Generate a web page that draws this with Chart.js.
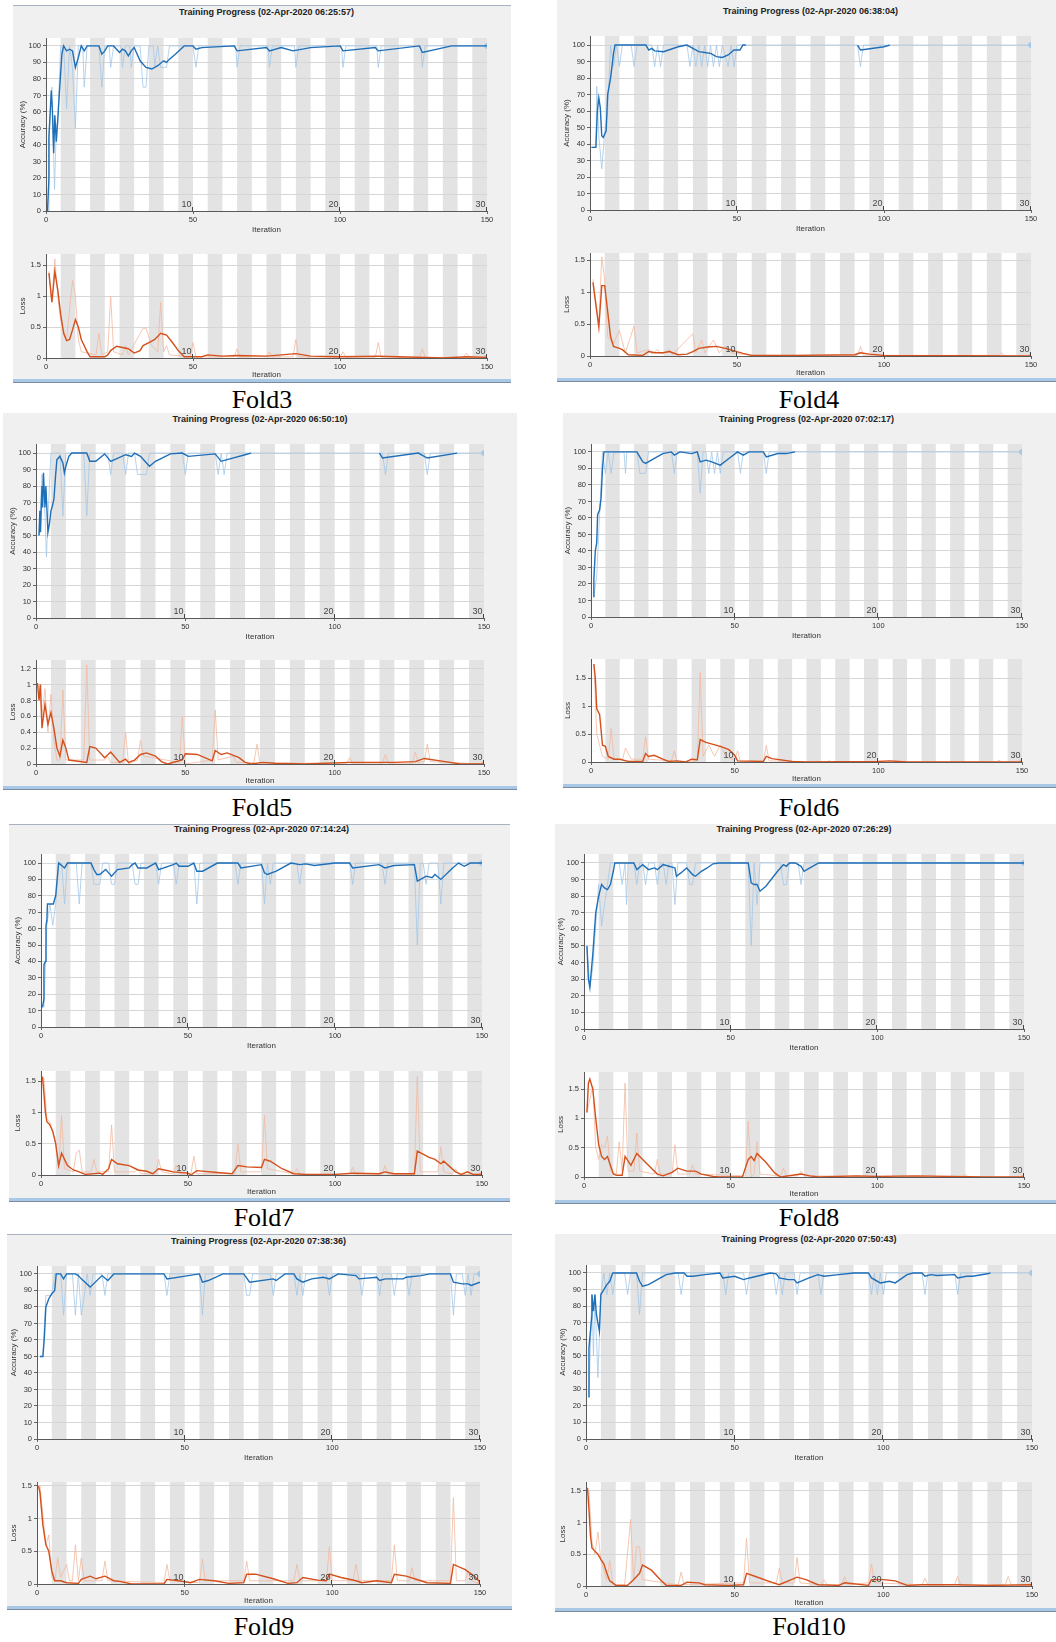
<!DOCTYPE html>
<html>
<head>
<meta charset="utf-8">
<script src="https://cdn.jsdelivr.net/npm/chart.js@4.4.1/dist/chart.umd.min.js"></script>
<style>
  body { margin: 0; width: 1056px; height: 1642px; background: #fff; position: relative; overflow: hidden; font-family: "Liberation Sans", Arial, sans-serif; }
  .frame { position: absolute; background: #f0f0f0; box-sizing: border-box; }
  .frame.topline { border-top: 1px solid #a7b3c0; }
  .frame .bar { position: absolute; left: 0; right: 0; bottom: 0; height: 3px; border-bottom: 1px solid #7b8a9c; background: #a9c7e7; }
  .title { position: absolute; font: bold 9px "Liberation Sans", Arial, sans-serif; color: #222; transform: translate(-50%, -50%); white-space: nowrap; }
  .fold { position: absolute; font: 26px "Liberation Serif", "Times New Roman", serif; color: #000; transform: translate(-50%, -50%); white-space: nowrap; }
  canvas { position: absolute; }
</style>
</head>
<body>
<script>
// 軸の目盛りとエポック
const iterTicks = [0, 50, 100, 150];
const accTicks = [0, 10, 20, 30, 40, 50, 60, 70, 80, 90, 100];
const lossTicks = [0, 0.5, 1, 1.5];
const lossTicksFine = [0, 0.2, 0.4, 0.6, 0.8, 1, 1.2];
const epochLabels = [10, 20, 30];
const itersPerEpoch = 5;
const numEpochs = 30;

const foldNames = ['Fold3', 'Fold4', 'Fold5', 'Fold6', 'Fold7', 'Fold8', 'Fold9', 'Fold10'];
const foldTimes = ['06:25:57', '06:38:04', '06:50:10', '07:02:17', '07:14:24', '07:26:29', '07:38:36', '07:50:43'];
const finalAcc = [100, 100, 100, 100, 100, 100, 100, 100];
const finalLoss = [0.01, 0, 0, 0, 0.01, 0, 0, 0.01];

// Fold3
const fold3AccSmooth = [[0.5,0],[1,20],[1,45],[1.8,73],[2.2,60],[2.6,35],[3,58],[3.5,42],[4,55],[4.5,70],[5.4,95],[6,100],[7,97],[8,98],[9,97],[10,87],[11,93],[12,100],[13,97],[14,100],[18,100],[19,95],[20,97],[21,100],[23,100],[24,98],[25,96],[26,98],[27,97],[28,94],[29,97],[30,99],[32,91],[34,87],[36,86],[38,88],[40,91],[41,90],[42,92],[44,95],[47,100],[50,100],[51,98],[53,99],[64,100],[65,97],[75,99],[76,97],[80,99],[84,97],[90,99],[100,100],[101,97],[112,99],[113,97],[127,100],[128,96],[138,100],[150,100]];
const fold3AccRaw = [[0.7,0],[1,45],[2,75],[2.9,13],[3.5,50],[4,55],[5,100],[6,100],[7,62],[8,100],[9,87],[10,50],[11,100],[12.5,100],[13,75],[14,100],[18,100],[19,75],[20,100],[21.5,100],[22,87],[23,100],[25.5,100],[26,87],[27,100],[28.5,100],[29,87],[30,100],[32,100],[33,75],[34,75],[35,100],[36.5,100],[37,88],[38,100],[39,87],[40,87],[41,87],[42,100],[50,100],[51,87],[52,100],[64.5,100],[65,87],[66,100],[75.5,100],[76,87],[77,100],[84.5,100],[85,87],[86,100],[100.5,100],[101,87],[102,100],[112.5,100],[113,87],[114,100],[127.5,100],[128,87],[129,100],[150,100]];
const fold3LossSmooth = [[1,1.37],[2,0.9],[3,1.4],[4,1.1],[5,0.7],[6,0.4],[7,0.28],[8,0.3],[9,0.45],[10,0.62],[11,0.5],[12,0.3],[14,0.1],[15,0.02],[20,0.02],[21,0.05],[22,0.12],[24,0.19],[26,0.17],[28,0.15],[30,0.08],[32,0.12],[33,0.2],[35,0.25],[37,0.3],[39,0.4],[41,0.37],[43,0.25],[45,0.12],[47,0.02],[53,0.02],[55,0.05],[60,0.03],[65,0.04],[75,0.03],[85,0.07],[90,0.03],[100,0.02],[113,0.03],[120,0.02],[135,0.0],[143,0.02],[150,0.01]];
const fold3LossRaw = [[1,1.4],[2,0.9],[3,1.6],[4,1.0],[5,0.6],[7,0.3],[9,1.25],[10,1.0],[11,0.3],[12,0.1],[17,0.05],[18,0.4],[19,0.05],[21,0.1],[22,1.0],[23,0.1],[26,0.05],[27,0.2],[28,0.05],[33,0.48],[34,0.48],[36,0.2],[38,0.1],[39,0.9],[40,0.1],[41,0.2],[42,0.05],[49,0.02],[50,0.25],[51,0.02],[64,0.02],[65,0.15],[66,0.02],[75,0.02],[76,0.1],[77,0.02],[84,0.02],[85,0.3],[86,0.02],[100,0.01],[101,0.1],[102,0.01],[112,0.01],[113,0.25],[114,0.01],[127,0.01],[128,0.15],[129,0.01],[142,0.01],[143,0.08],[144,0.01],[150,0.01]];

// Fold4
const fold4AccSmooth = [[0.5,38],[2,38],[2.5,60],[3,68],[3.5,62],[4,45],[4.5,44],[5,46],[5.5,48],[6,70],[7,80],[8,95],[8.5,100],[19,100],[20,97],[21,98],[22,96.5],[25,96],[30,99],[33,100],[35,98],[37,96],[39,95.5],[41,95],[43,93],[45,92.5],[47,94],[49,97],[51,97],[52,100],[53,100],[53.5,null],[91,100],[92,97],[94,97.5],[100,99],[102,100]];
const fold4AccRaw = [[0.5,38],[2,38],[2.3,75],[3,45],[4,25],[5,47],[6,60],[7,100],[8,87],[9,100],[10,87],[11,100],[14,100],[15,87],[16,100],[21,100],[22,87],[23,100],[24,87],[25,100],[33,100],[34,87],[35,100],[36,87],[37,100],[38,87],[39,100],[40,87],[41,100],[42,87],[43,100],[44,87],[45,100],[47,87],[48,100],[49,87],[50,100],[91,100],[92,87],[93,100],[150,100]];
const fold4LossSmooth = [[1,1.15],[2,0.8],[3,0.45],[4,1.1],[5,1.1],[6,0.7],[7,0.3],[8,0.15],[10,0.12],[11,0.1],[13,0.02],[18,0.01],[20,0.07],[22,0.05],[25,0.05],[27,0.07],[30,0.02],[33,0.03],[35,0.07],[37,0.12],[40,0.14],[43,0.15],[46,0.12],[49,0.08],[52,0.04],[55,0.01],[70,0.01],[90,0.02],[92,0.05],[95,0.03],[100,0.01],[150,0.0]];
const fold4LossRaw = [[1,1.2],[3,0.5],[4,1.55],[5,1.2],[6,0.3],[8,0.2],[10,0.4],[12,0.05],[15,0.47],[16,0.05],[20,0.1],[21,0.03],[23,0.1],[24,0.03],[27,0.1],[28,0.02],[35,0.35],[36,0.05],[38,0.25],[39,0.05],[42,0.25],[44,0.05],[46,0.15],[48,0.05],[55,0.01],[91,0.01],[92,0.15],[93,0.01],[139,0.01],[140,0.05],[141,0.0],[150,0.0]];

// Fold5
const fold5AccSmooth = [[1,50],[1.3,65],[1.5,52],[2,80],[2.2,67],[2.5,88],[3,67],[3.3,80],[4,52],[4.5,57],[5,65],[5.5,68],[6,72],[6.5,85],[7,96],[8,98],[9,94],[9.5,88],[10,92],[11,98],[12,100],[17,100],[18,95],[20,95],[23,99.5],[25,95],[30,99],[32,98],[33,100],[35,98],[37,94],[38,92],[40,95],[45,99.5],[49,100],[51,98],[60,99.5],[62,95],[64,96],[70,99],[72,100],[72.5,null],[115,100],[116,97],[128,100],[131,97],[141,100]];
const fold5AccRaw = [[1,50],[2,87],[3,63],[3.5,37],[4,60],[5,100],[8,100],[9,62],[10,100],[16,100],[17,62],[18,100],[24,100],[25,87],[26,100],[29,100],[30,87],[31,100],[33,100],[34,87],[37,87],[38,100],[49,100],[50,87],[51,100],[60,100],[61,87],[62,100],[63,87],[64,100],[116,100],[117,87],[118,100],[130,100],[131,87],[132,100],[150,100]];
const fold5LossSmooth = [[0.5,1.02],[1,0.8],[1.5,1.0],[2,0.45],[3,0.75],[4,0.5],[5,0.65],[6,0.45],[7,0.2],[8,0.1],[9,0.3],[10,0.2],[11,0.05],[17,0.02],[18,0.22],[20,0.2],[23,0.08],[25,0.15],[28,0.02],[30,0.06],[31,0.02],[33,0.05],[35,0.12],[37,0.14],[40,0.1],[42,0.03],[44,0.0],[49,0.05],[50,0.13],[54,0.12],[59,0.04],[60,0.17],[62,0.12],[64,0.14],[68,0.08],[70,0.02],[72,0.0],[76,0.02],[80,0.01],[90,0.0],[105,0.02],[120,0.02],[127,0.03],[130,0.07],[137,0.03],[142,0.0],[150,0.0]];
const fold5LossRaw = [[1,1.0],[2,0.6],[3,0.95],[4,0.4],[5,0.88],[6,0.3],[7,0.05],[8,0.05],[9,0.93],[10,0.05],[15,0.05],[16,0.05],[17,1.25],[18,0.05],[23,0.05],[24,0.1],[25,0.02],[29,0.02],[30,0.4],[31,0.0],[34,0.05],[35,0.3],[36,0.1],[48,0.02],[49,0.6],[50,0.0],[59,0.05],[60,0.68],[61,0.05],[66,0.1],[67,0.02],[73,0.02],[74,0.25],[75,0.01],[104,0.01],[105,0.08],[106,0.01],[116,0.01],[117,0.12],[118,0.01],[126,0.01],[127,0.15],[128,0.02],[130,0.03],[131,0.25],[132,0.03],[150,0.0]];

// Fold6
const fold6AccSmooth = [[1,12],[1,23],[1.5,40],[2,45],[2.3,62],[3,65],[3.5,72],[4,90],[4.5,100],[16,100],[17,97],[18,94],[19,93],[21,95],[25,99],[28,100],[29,98],[31,100],[35,99],[37,100],[38,94],[40,95],[42,94],[45,92],[48,96],[51,100],[53,98],[55,100],[60,100],[61,97],[65,99],[68,99],[71,100]];
const fold6AccRaw = [[1,12],[2,25],[3,62],[4,100],[5,87],[6,100],[7,87],[8,100],[11.5,100],[12,87],[12.5,100],[16,100],[17,87],[19,87],[20,100],[28,100],[29,87],[30,100],[37,100],[38,75],[39,100],[40,100],[41,87],[42,100],[43,87],[44,100],[45,87],[46,100],[51,100],[52,87],[53,100],[60,100],[61,87],[62,100],[150,100]];
const fold6LossSmooth = [[1,1.75],[1.5,1.5],[2,0.95],[3,0.85],[4,0.3],[5,0.28],[6,0.1],[8,0.05],[10,0.05],[13,0.01],[18,0.01],[19,0.15],[20,0.1],[22,0.12],[25,0.05],[27,0.01],[30,0.02],[33,0.0],[35,0.05],[37,0.04],[38,0.4],[40,0.35],[45,0.28],[48,0.22],[50,0.12],[51,0.02],[60,0.01],[61,0.1],[63,0.06],[70,0.01],[75,0.0],[100,0.01],[104,0.02],[110,0.0],[150,0.0]];
const fold6LossRaw = [[1,1.75],[2,0.5],[3,0.3],[4,0.1],[6,0.05],[7,0.6],[8,0.05],[11,0.05],[12,0.25],[14,0.05],[18,0.05],[19,0.45],[20,0.05],[28,0.02],[29,0.2],[30,0.0],[37,0.02],[38,1.6],[39,0.1],[41,0.3],[43,0.1],[45,0.3],[47,0.1],[50,0.02],[51,0.2],[52,0.01],[60,0.01],[61,0.3],[62,0.02],[82,0.0],[83,0.02],[84,0.0],[141,0.0],[142,0.03],[143,0.0],[150,0.0]];

// Fold7
const fold7AccSmooth = [[0.5,12],[1,17],[1,38],[1.5,40],[1.7,62],[2,65],[2.2,75],[4,75],[4.2,75],[5,80],[6,100],[8,97],[9,100],[17,100],[18,96],[19,93],[20,93],[22,96],[23,94],[24,92],[26,96],[30,97],[31,99],[32,100],[33,97],[36,97],[38,99],[39,100],[40,96],[45,99],[46,100],[47,98],[50,98],[52,100],[53,95],[55,95],[60,100],[67,100],[68,97],[75,99],[76,94],[77,93],[80,95],[85,100],[88,99],[90,99.5],[93,98.5],[100,100],[105,100],[106,97],[115,99],[117,97],[120,98.5],[127,99],[128,89],[130,91],[131,92],[133,91],[134,93],[136,90],[140,97],[142,100],[144,98],[146,100],[150,100]];
const fold7AccRaw = [[1,12],[2,62],[3,75],[4,62],[5,75],[6,100],[7,100],[8,75],[9,100],[12,100],[13,75],[14,100],[17,100],[18,87],[20,87],[21,100],[23,100],[24,87],[25,87],[26,100],[31,100],[32,87],[33,87],[34,100],[39,100],[40,87],[41,100],[45,100],[46,87],[47,100],[52,100],[53,75],[54,100],[66,100],[67,87],[68,100],[75,100],[76,75],[77,100],[78,87],[79,100],[87,100],[88,87],[89,100],[105,100],[106,87],[107,100],[116,100],[117,87],[118,100],[127,100],[128,50],[129,100],[130,100],[131,87],[132,100],[135,100],[136,75],[137,100],[150,100]];
const fold7LossSmooth = [[0.5,1.57],[1,1.3],[1.5,1.0],[2,0.85],[3,0.8],[4,0.7],[5,0.5],[6,0.15],[7,0.35],[8,0.25],[9,0.15],[11,0.08],[13,0.05],[15,0.01],[20,0.03],[21,0.01],[23,0.1],[24,0.25],[26,0.18],[30,0.15],[33,0.08],[36,0.06],[38,0.02],[40,0.1],[42,0.08],[45,0.05],[50,0.03],[51,0.0],[53,0.07],[60,0.04],[65,0.02],[67,0.15],[70,0.13],[75,0.12],[76,0.25],[78,0.22],[82,0.1],[86,0.02],[90,0.01],[100,0.01],[106,0.03],[115,0.02],[117,0.05],[120,0.02],[127,0.02],[128,0.38],[132,0.28],[134,0.25],[136,0.18],[137,0.22],[141,0.05],[143,0.01],[145,0.05],[147,0.01],[150,0.01]];
const fold7LossRaw = [[1,1.55],[2,0.9],[3,0.85],[5,0.5],[6,0.1],[7,0.95],[8,0.1],[11,0.05],[12,0.35],[13,0.4],[14,0.05],[17,0.05],[18,0.25],[19,0.05],[23,0.05],[24,0.8],[25,0.05],[32,0.05],[33,0.1],[34,0.02],[39,0.02],[40,0.25],[41,0.05],[45,0.02],[46,0.15],[47,0.02],[51,0.02],[52,0.3],[53,0.02],[66,0.02],[67,0.5],[68,0.05],[75,0.05],[76,0.95],[77,0.1],[86,0.02],[87,0.1],[88,0.01],[105,0.01],[106,0.12],[107,0.01],[116,0.01],[117,0.15],[118,0.01],[127,0.01],[128,1.57],[129,0.05],[135,0.05],[136,0.45],[137,0.05],[140,0.02],[141,0.1],[142,0.01],[150,0.0]];

// Fold8
const fold8AccSmooth = [[1,50],[1.5,30],[2,25],[2.5,35],[3,45],[4,70],[5,80],[6,87],[7,85],[8,84],[9,87],[10,95],[10.5,100],[17,100],[18,96],[20,99],[22,96],[24,97],[25,96],[27,99],[29,98],[31,97],[31.5,92],[33,94],[35,97],[37,93],[38,92],[40,95],[42,97],[44,99.5],[46,100],[56,100],[57,88],[58,87],[59,87],[60,83],[62,86],[66,95],[68,99],[69,98],[70,100],[72,100],[74,98],[75,95],[77,97],[80,100],[150,100]];
const fold8AccRaw = [[1,50],[2,25],[3,37],[4,62],[5,87],[6,62],[7,75],[8,87],[9,100],[12,100],[13,87],[14,100],[14.5,75],[15,100],[17,100],[18,87],[19,100],[20,100],[21,87],[22,100],[24,100],[25,87],[26,100],[27,100],[28,87],[29,100],[30,100],[31,75],[32,100],[35,100],[36,87],[37,87],[38,100],[56,100],[57,50],[58,100],[59,75],[60,100],[67,100],[68,87],[69,87],[70,100],[73,100],[74,87],[75,100],[150,100]];
const fold8LossSmooth = [[1,1.1],[1.5,1.6],[2,1.67],[3,1.5],[4,1.0],[5,0.55],[6,0.35],[7,0.3],[8,0.35],[9,0.2],[10,0.05],[11,0.03],[13,0.03],[14,0.35],[16,0.2],[18,0.4],[20,0.3],[23,0.15],[25,0.05],[27,0.02],[30,0.08],[32,0.15],[35,0.1],[38,0.1],[40,0.05],[44,0.01],[46,0.0],[54,0.0],[56,0.3],[57,0.35],[58,0.28],[59,0.4],[62,0.25],[65,0.07],[67,0.0],[74,0.05],[77,0.02],[80,0.0],[93,0.02],[100,0.01],[113,0.02],[125,0.01],[137,0.0],[150,0.0]];
const fold8LossRaw = [[1,1.1],[3,1.55],[4,0.5],[5,0.3],[6,0.55],[7,0.5],[8,0.7],[9,0.1],[11,0.05],[12,0.6],[13,0.1],[14,1.6],[15,0.1],[17,0.1],[18,0.75],[19,0.1],[24,0.05],[25,0.3],[26,0.05],[30,0.05],[31,0.55],[32,0.05],[36,0.05],[37,0.2],[38,0.05],[55,0.02],[56,0.95],[57,0.0],[58,0.05],[59,0.6],[60,0.05],[67,0.02],[68,0.15],[69,0.02],[73,0.02],[74,0.1],[75,0.02],[129,0.0],[130,0.05],[131,0.0],[150,0.0]];

// Fold9
const fold9AccSmooth = [[1,50],[2,50],[2.5,62],[3,80],[4,85],[5,88],[6,90],[6.5,100],[8,100],[9,97],[10,100],[13,100],[14,99],[15,97],[18,92],[22,99],[24,96],[26,100],[43,100],[44,97],[55,100],[56,95],[58,96],[63,100],[70,100],[72,95],[80,97],[81,96],[84,100],[87,100],[88,97],[90,95],[93,97],[97,98],[99,97],[102,100],[108,99],[109,97],[115,98],[116,96],[118,97],[124,97],[125,98],[130,99],[133,100],[140,100],[141,95],[144,94],[146,94],[147,93],[150,95]];
const fold9AccRaw = [[1,50],[2,50],[3,87],[4,87],[5,87],[6,100],[8,100],[9,75],[10,100],[12,100],[13,75],[14,100],[15,75],[16,87],[17,100],[18,87],[19,100],[22,100],[23,87],[24,100],[43,100],[44,87],[45,100],[55,100],[56,75],[57,100],[70,100],[71,87],[72,87],[73,100],[79,100],[80,87],[81,100],[87,100],[88,87],[89,100],[90,87],[91,100],[98,100],[99,87],[100,100],[109,100],[110,87],[111,100],[115,100],[116,87],[117,100],[120,100],[121,87],[122,100],[125,100],[126,87],[127,100],[140,100],[141,75],[142,100],[144,100],[145,87],[146,100],[147,87],[148,100],[150,100]];
const fold9LossSmooth = [[0.5,1.5],[1,1.4],[2,0.9],[3,0.6],[4,0.5],[5,0.2],[6,0.05],[8,0.05],[10,0.02],[14,0.01],[15,0.07],[18,0.12],[20,0.08],[23,0.12],[26,0.05],[28,0.04],[32,0.0],[43,0.0],[44,0.07],[48,0.05],[52,0.02],[55,0.07],[60,0.05],[65,0.01],[70,0.02],[71,0.15],[74,0.15],[80,0.08],[85,0.01],[88,0.02],[90,0.1],[95,0.06],[98,0.05],[99,0.15],[103,0.1],[108,0.05],[110,0.02],[115,0.05],[120,0.02],[121,0.15],[125,0.12],[130,0.05],[132,0.02],[140,0.01],[141,0.3],[145,0.22],[148,0.12],[150,0.03]];
const fold9LossRaw = [[1,1.5],[3,0.6],[4,0.75],[5,0.1],[6,0.05],[7,0.4],[8,0.1],[10,0.3],[11,0.05],[12,0.05],[13,0.6],[14,0.05],[15,0.4],[16,0.05],[22,0.05],[23,0.35],[24,0.05],[43,0.02],[44,0.3],[45,0.05],[55,0.02],[56,0.38],[57,0.05],[70,0.05],[71,0.35],[72,0.05],[87,0.05],[88,0.3],[89,0.05],[98,0.05],[99,0.57],[100,0.05],[107,0.05],[108,0.3],[109,0.05],[120,0.05],[121,0.6],[122,0.05],[126,0.05],[127,0.25],[128,0.05],[140,0.05],[141,1.32],[142,0.05],[145,0.05],[146,0.2],[147,0.05],[150,0.0]];

// Fold10
const fold10AccSmooth = [[1,25],[1,55],[2,75],[2,87],[2.5,77],[3,87],[3.5,75],[4,70],[4.5,65],[5,87],[6,90],[7,93],[8,95],[9,100],[17,100],[18,95],[19,92],[21,93],[24,96],[27,99],[30,100],[33,100],[34,98],[36,98],[40,99],[45,100],[46,97],[50,98],[53,96],[55,97],[62,100],[64,99.5],[65,97],[68,96],[70,96],[71,94],[75,97],[78,99],[80,98],[85,99],[90,100],[95,100],[96,97],[99,94],[102,95],[104,94],[108,99],[110,100],[113,100],[114,98],[116,99],[118,98.5],[124,99],[125,97],[128,98],[130,98],[135,99.5],[136,100]];
const fold10AccRaw = [[1,25],[2,87],[2.5,50],[3,87],[4,37],[5,87],[6,100],[7,87],[8,100],[9,87],[10,100],[13,100],[14,87],[15,100],[17,100],[18,75],[19,100],[31,100],[32,87],[33,100],[46,100],[47,87],[48,100],[53,100],[54,87],[55,100],[63,100],[64,87],[65,100],[66,87],[67,100],[70,100],[71,87],[72,100],[78,100],[79,87],[80,100],[95,100],[96,87],[97,100],[98,87],[99,100],[100,87],[101,100],[113,100],[114,87],[115,100],[124,100],[125,87],[126,100],[150,100]];
const fold10LossSmooth = [[0.5,1.55],[1,1.2],[1.5,0.8],[2,0.6],[3,0.55],[4,0.5],[5,0.42],[6,0.35],[7,0.2],[8,0.08],[9,0.05],[10,0.01],[14,0.01],[16,0.1],[18,0.2],[19,0.33],[22,0.25],[25,0.1],[27,0.01],[32,0.01],[34,0.06],[38,0.05],[40,0.02],[48,0.01],[53,0.02],[54,0.2],[57,0.15],[63,0.05],[65,0.02],[71,0.14],[74,0.1],[78,0.02],[85,0.01],[87,0.05],[95,0.01],[96,0.1],[100,0.1],[104,0.08],[108,0.01],[113,0.02],[125,0.02],[135,0.01],[150,0.02]];
const fold10LossRaw = [[1,1.5],[2,0.7],[3,0.5],[4,0.85],[5,0.4],[7,0.1],[8,0.4],[9,0.02],[13,0.02],[15,1.05],[16,0.1],[17,0.62],[18,0.62],[19,0.1],[31,0.02],[32,0.22],[33,0.02],[53,0.05],[54,0.75],[55,0.05],[64,0.05],[65,0.28],[66,0.05],[70,0.05],[71,0.45],[72,0.05],[79,0.02],[80,0.1],[81,0.02],[86,0.02],[87,0.15],[88,0.02],[95,0.05],[96,0.35],[97,0.05],[113,0.02],[114,0.12],[115,0.02],[124,0.02],[125,0.15],[126,0.02],[141,0.02],[142,0.15],[143,0.02],[150,0.0]];

const accSmooth = [fold3AccSmooth, fold4AccSmooth, fold5AccSmooth, fold6AccSmooth, fold7AccSmooth, fold8AccSmooth, fold9AccSmooth, fold10AccSmooth];
const accRaw = [fold3AccRaw, fold4AccRaw, fold5AccRaw, fold6AccRaw, fold7AccRaw, fold8AccRaw, fold9AccRaw, fold10AccRaw];
const lossSmooth = [fold3LossSmooth, fold4LossSmooth, fold5LossSmooth, fold6LossSmooth, fold7LossSmooth, fold8LossSmooth, fold9LossSmooth, fold10LossSmooth];
const lossRaw = [fold3LossRaw, fold4LossRaw, fold5LossRaw, fold6LossRaw, fold7LossRaw, fold8LossRaw, fold9LossRaw, fold10LossRaw];

// 各パネルの配置（ピクセル）
const panels = [
  { frame: [13, 5, 511, 383], topline: true, titleY: 12, acc: [46, 38, 487, 211], accMax: 104.8, loss: [46, 254, 487, 358], lossMax: 1.68, label: [262, 400] },
  { frame: [557, 0, 1056, 382], titleY: 11, acc: [590, 36, 1031, 210], accMax: 105.5, loss: [590, 253, 1031, 356], lossMax: 1.61, label: [809, 400] },
  { frame: [3, 413, 517, 790], titleY: 419, acc: [36, 444, 484, 618], accMax: 105.5, loss: [36, 660, 484, 764], lossMax: 1.31, label: [262, 808], fine: true },
  { frame: [563, 413, 1056, 788], titleY: 419, acc: [591, 444, 1022, 617], accMax: 104.8, loss: [591, 659, 1022, 762], lossMax: 1.84, label: [809, 808] },
  { frame: [9, 824, 510, 1202], topline: true, titleY: 829, acc: [41, 854, 482, 1027], accMax: 105.5, loss: [41, 1071, 482, 1175], lossMax: 1.66, label: [264, 1218] },
  { frame: [555, 824, 1056, 1204], titleY: 829, acc: [584, 854, 1024, 1029], accMax: 105.4, loss: [584, 1072, 1024, 1177], lossMax: 1.79, label: [809, 1218] },
  { frame: [7, 1234, 512, 1610], topline: true, titleY: 1241, acc: [37, 1266, 480, 1439], accMax: 104.8, loss: [37, 1482, 480, 1584], lossMax: 1.56, label: [264, 1627] },
  { frame: [555, 1234, 1056, 1612], titleY: 1239, acc: [586, 1265, 1032, 1439], accMax: 104.8, loss: [586, 1482, 1032, 1586], lossMax: 1.64, label: [809, 1627] }
];

const tickFont = { family: 'Liberation Sans', size: 7.5 };
const titleFont = { family: 'Liberation Sans', size: 8 };

// エポックの帯とラベル
const bandPlugin = {
  id: 'bands',
  beforeDraw(chart) {
    const { ctx, chartArea: a, scales: { x } } = chart;
    ctx.save();
    ctx.fillStyle = '#ffffff';
    ctx.fillRect(a.left, a.top, a.right - a.left, a.bottom - a.top);
    ctx.fillStyle = '#e3e3e3';
    for (let e = 2; e <= numEpochs; e += 2) {
      const x0 = x.getPixelForValue((e - 1) * itersPerEpoch);
      const x1 = x.getPixelForValue(e * itersPerEpoch);
      ctx.fillRect(x0, a.top, x1 - x0, a.bottom - a.top);
    }
    ctx.restore();
  },
  afterDatasetsDraw(chart) {
    const { ctx, chartArea: a, scales: { x } } = chart;
    ctx.save();
    ctx.font = '9px "Liberation Sans"';
    ctx.fillStyle = '#444';
    ctx.strokeStyle = '#444';
    ctx.lineWidth = 1;
    ctx.textAlign = 'right';
    ctx.textBaseline = 'alphabetic';
    epochLabels.forEach(e => {
      const px = Math.round(x.getPixelForValue(e * itersPerEpoch)) - 0.5;
      ctx.beginPath();
      ctx.moveTo(px, a.bottom);
      ctx.lineTo(px, a.bottom - 4);
      ctx.stroke();
      ctx.fillText(String(e), px - 1, a.bottom - 4);
    });
    ctx.restore();
  }
};

const toPts = arr => arr.map(([x, y]) => ({ x, y }));

function makeChart(rect, yMax, yTicks, yTitle, smooth, raw, last, dark, light, xh) {
  const [l, t, r, b] = rect;
  const YW = 34, PT = 8, PR = 14;
  const w = r - l + YW + PR, h = b - t + PT + xh;
  const cv = document.createElement('canvas');
  cv.width = w; cv.height = h;
  cv.style.left = (l - YW) + 'px';
  cv.style.top = (t - PT) + 'px';
  cv.style.width = w + 'px';
  cv.style.height = h + 'px';
  document.body.appendChild(cv);
  return new Chart(cv, {
    type: 'line',
    data: {
      datasets: [
        { data: toPts(smooth), borderColor: dark, borderWidth: 1.4, pointRadius: 0, spanGaps: false },
        { data: toPts(raw), borderColor: light, borderWidth: 0.8, pointRadius: 0 },
        { data: [{ x: 150, y: last }], showLine: false, pointRadius: 2.5, pointBackgroundColor: light, pointBorderColor: light }
      ]
    },
    options: {
      responsive: false,
      animation: false,
      devicePixelRatio: 1,
      layout: { padding: { top: PT, right: PR, left: 0, bottom: 0 } },
      plugins: { legend: { display: false }, tooltip: { enabled: false } },
      scales: {
        x: {
          type: 'linear', min: 0, max: 150,
          afterBuildTicks: s => { s.ticks = iterTicks.map(v => ({ value: v })); },
          afterFit: s => { s.height = xh; },
          grid: { drawOnChartArea: false, tickLength: 3, tickColor: '#666' },
          border: { color: '#5a5a5a' },
          ticks: { font: tickFont, color: '#333', padding: 1, maxRotation: 0 },
          title: { display: true, text: 'Iteration', font: titleFont, color: '#333', padding: { top: 0, bottom: 2.5 } }
        },
        y: {
          type: 'linear', min: 0, max: yMax,
          afterBuildTicks: s => { s.ticks = yTicks.map(v => ({ value: v })); },
          afterFit: s => { s.width = YW; },
          grid: { color: '#d6d6d6', tickLength: 3, tickColor: '#666' },
          border: { color: '#5a5a5a' },
          ticks: { font: tickFont, color: '#333', padding: 2, callback: v => String(+v.toFixed(1)) },
          title: { display: true, text: yTitle, font: titleFont, color: '#333', padding: { top: 6, bottom: 0 } }
        }
      }
    },
    plugins: [bandPlugin]
  });
}

function addDiv(cls, text, x, y) {
  const d = document.createElement('div');
  d.className = cls;
  d.textContent = text;
  d.style.left = x + 'px';
  d.style.top = y + 'px';
  document.body.appendChild(d);
}

panels.forEach((p, i) => {
  const [fx0, fy0, fx1, fy1] = p.frame;
  const f = document.createElement('div');
  f.className = p.topline ? 'frame topline' : 'frame';
  f.style.left = fx0 + 'px';
  f.style.top = fy0 + 'px';
  f.style.width = (fx1 - fx0) + 'px';
  f.style.height = (fy1 - fy0) + 'px';
  const bar = document.createElement('div');
  bar.className = 'bar';
  f.appendChild(bar);
  document.body.appendChild(f);

  addDiv('title', 'Training Progress (02-Apr-2020 ' + foldTimes[i] + ')', (p.acc[0] + p.acc[2]) / 2, p.titleY);
  addDiv('fold', foldNames[i], p.label[0], p.label[1]);

  makeChart(p.acc, p.accMax, accTicks, 'Accuracy (%)', accSmooth[i], accRaw[i], finalAcc[i], '#1f6fb8', '#a3c8e8', 26);
  makeChart(p.loss, p.lossMax, p.fine ? lossTicksFine : lossTicks, 'Loss', lossSmooth[i], lossRaw[i], finalLoss[i], '#d4501c', '#f2b9a0', 24);
});
</script>
</body>
</html>
